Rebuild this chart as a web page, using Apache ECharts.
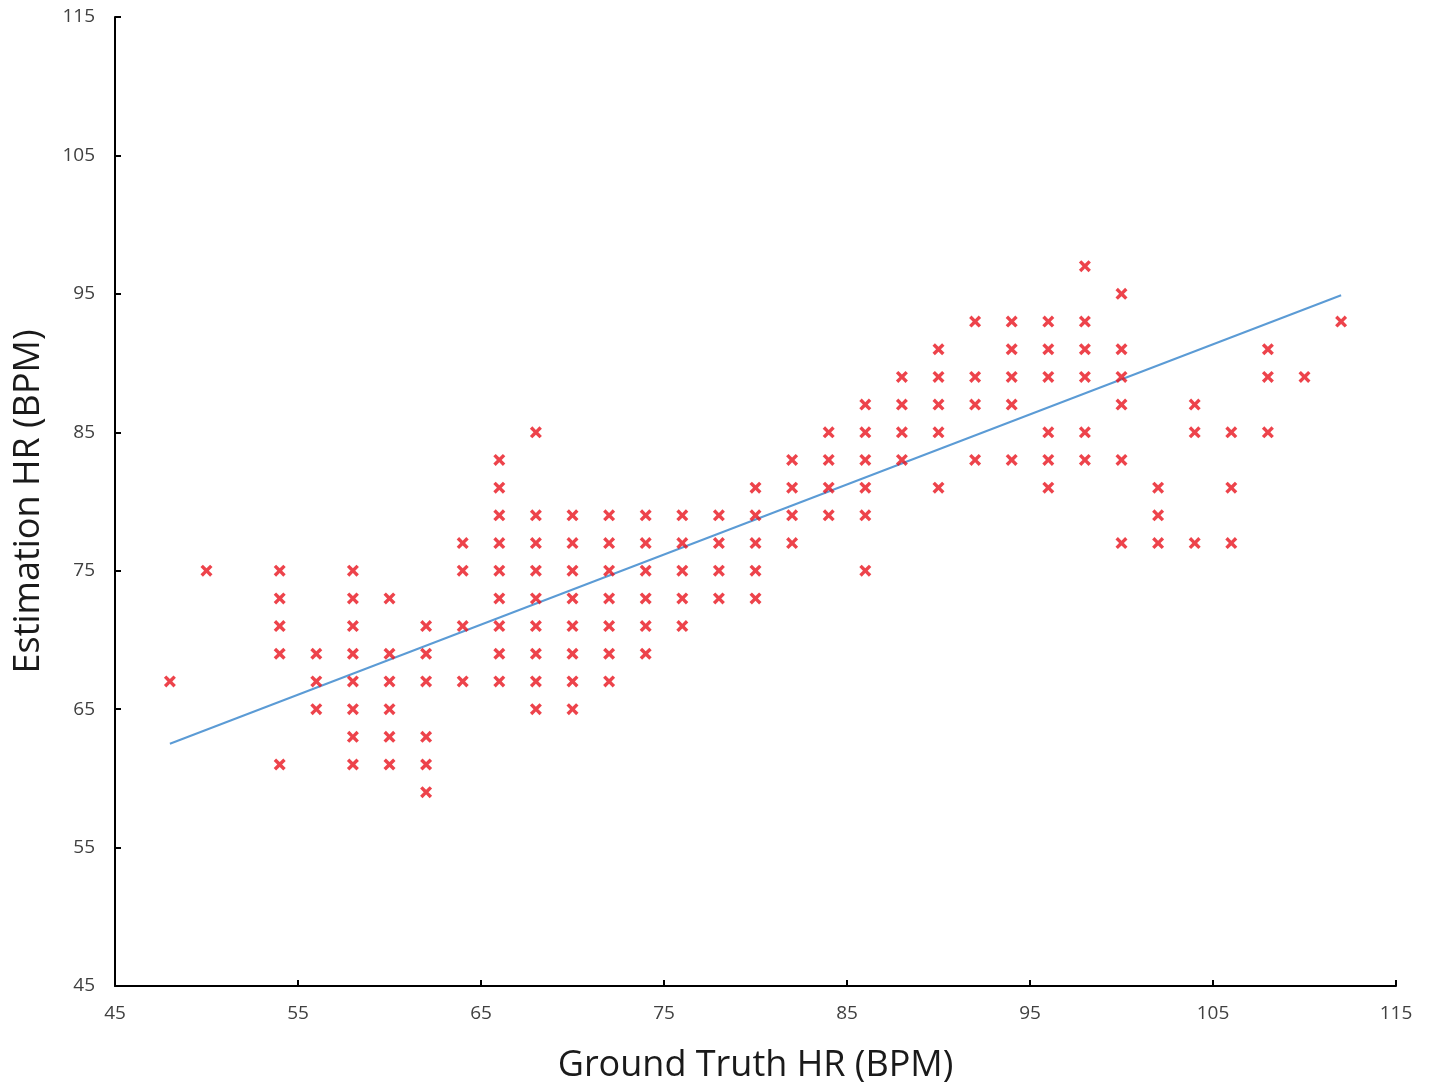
<!DOCTYPE html>
<html>
<head>
<meta charset="utf-8">
<title>Estimation vs Ground Truth HR</title>
<script src="https://cdn.jsdelivr.net/npm/echarts@6/dist/echarts.min.js"></script>
<style>
    html, body { margin: 0; padding: 0; background: #fff; }
    #main { width: 1432px; height: 1084px; }
</style>
</head>
<body>
<div id="main"></div>
<script>
// 每一列：真实心率 -> 估计心率
const groundTruth = [48, 50, 54, 56, 58, 60, 62, 64, 66, 68, 70, 72, 74, 76, 78, 80,
    82, 84, 86, 88, 90, 92, 94, 96, 98, 100, 102, 104, 106, 108, 110, 112];
const estimation = [
    [67],
    [75],
    [75, 73, 71, 69, 61],
    [69, 67, 65],
    [75, 73, 71, 69, 67, 65, 63, 61],
    [73, 69, 67, 65, 63, 61],
    [71, 69, 67, 63, 61, 59],
    [77, 75, 71, 67],
    [83, 81, 79, 77, 75, 73, 71, 69, 67],
    [85, 79, 77, 75, 73, 71, 69, 67, 65],
    [79, 77, 75, 73, 71, 69, 67, 65],
    [79, 77, 75, 73, 71, 69, 67],
    [79, 77, 75, 73, 71, 69],
    [79, 77, 75, 73, 71],
    [79, 77, 75, 73],
    [81, 79, 77, 75, 73],
    [83, 81, 79, 77],
    [85, 83, 81, 79],
    [87, 85, 83, 81, 79, 75],
    [89, 87, 85, 83],
    [91, 89, 87, 85, 81],
    [93, 89, 87, 83],
    [93, 91, 89, 87, 83],
    [93, 91, 89, 85, 83, 81],
    [97, 93, 91, 89, 85, 83],
    [95, 91, 89, 87, 83, 77],
    [81, 79, 77],
    [87, 85, 77],
    [85, 81, 77],
    [91, 89, 85],
    [89],
    [93]
];
// 趋势线两端
const trendX = [48, 112];
const trendY = [62.5, 94.9];

let points = [];
groundTruth.forEach((x, i) => {
    for (let y of estimation[i]) points.push([x, y]);
});

const crossPath = 'path://M2.4,0L6,3.6L9.6,0L12,2.4L8.4,6L12,9.6L9.6,12L6,8.4L2.4,12L0,9.6L3.6,6L0,2.4Z';
const labelFont = { color: '#404040', fontSize: 19, fontFamily: 'Open Sans' };
const axisCommon = {
    type: 'value',
    min: 45,
    max: 115,
    interval: 10,
    nameLocation: 'middle',
    nameTextStyle: { color: '#1a1a1a', fontSize: 36, fontFamily: 'Open Sans' },
    axisLine: { show: true, lineStyle: { color: '#000', width: 2 } },
    axisTick: { show: true, inside: true, length: 6, lineStyle: { color: '#000', width: 2 } },
    splitLine: { show: false }
};

let myChart = echarts.init(document.getElementById('main'), null, { renderer: 'canvas' });
myChart.setOption({
    animation: false,
    grid: { left: 115, right: 36, top: 17, bottom: 98, containLabel: false, outerBoundsMode: 'none' },
    xAxis: Object.assign({}, axisCommon, {
        name: 'Ground Truth HR (BPM)',
        nameGap: 62,
        axisLabel: Object.assign({ margin: 18 }, labelFont)
    }),
    yAxis: Object.assign({}, axisCommon, {
        name: 'Estimation HR (BPM)',
        nameGap: 68,
        axisLabel: Object.assign({ margin: 20 }, labelFont)
    }),
    series: [
        {
            type: 'scatter',
            data: points,
            symbol: crossPath,
            symbolSize: 12,
            itemStyle: { color: '#e8141e' }
        },
        {
            type: 'line',
            data: trendX.map((x, i) => [x, trendY[i]]),
            symbol: 'none',
            lineStyle: { color: '#5b9bd5', width: 2 },
            z: 1
        }
    ]
});
</script>
</body>
</html>
